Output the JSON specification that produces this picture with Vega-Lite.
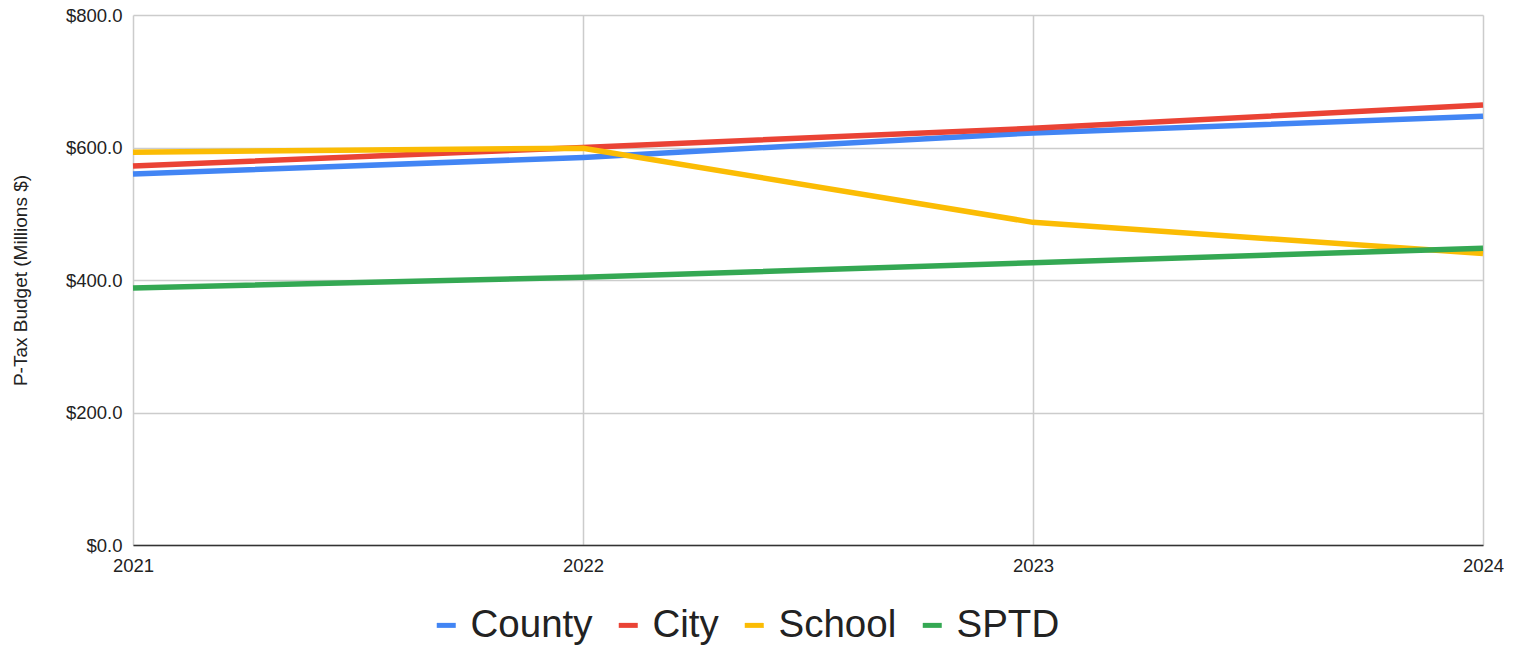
{
  "$schema": "https://vega.github.io/schema/vega-lite/v6.json",
  "width": 1350,
  "height": 530,
  "autosize": {"type": "none"},
  "padding": {"left": 133, "top": 15, "right": 34, "bottom": 102},
  "background": "white",
  "config": {
    "font": "Liberation Sans",
    "view": {"stroke": null},
    "axis": {"labelFont": "Liberation Sans", "titleFont": "Liberation Sans"}
  },
  "data": {
    "values": [
      {"year": 2021, "series": "County", "value": 560},
      {"year": 2022, "series": "County", "value": 585},
      {"year": 2023, "series": "County", "value": 622},
      {"year": 2024, "series": "County", "value": 647},
      {"year": 2021, "series": "City", "value": 572},
      {"year": 2022, "series": "City", "value": 600},
      {"year": 2023, "series": "City", "value": 629},
      {"year": 2024, "series": "City", "value": 664},
      {"year": 2021, "series": "School", "value": 593},
      {"year": 2022, "series": "School", "value": 599},
      {"year": 2023, "series": "School", "value": 487},
      {"year": 2024, "series": "School", "value": 440},
      {"year": 2021, "series": "SPTD", "value": 388},
      {"year": 2022, "series": "SPTD", "value": 404},
      {"year": 2023, "series": "SPTD", "value": 426},
      {"year": 2024, "series": "SPTD", "value": 448}
    ]
  },
  "mark": {"type": "line", "strokeWidth": 5.5, "interpolate": "linear", "strokeCap": "butt", "strokeJoin": "round"},
  "encoding": {
    "x": {
      "field": "year",
      "type": "quantitative",
      "scale": {"domain": [2021, 2024], "nice": false, "zero": false},
      "axis": {
        "title": null,
        "values": [2021, 2022, 2023, 2024],
        "format": "d",
        "grid": true,
        "gridColor": "#cccccc",
        "gridWidth": 1.5,
        "domainColor": "#333333",
        "domainWidth": 1.5,
        "ticks": false,
        "labelPadding": 11,
        "labelFontSize": 18.5,
        "labelColor": "#222222",
        "labelFlush": false
      }
    },
    "y": {
      "field": "value",
      "type": "quantitative",
      "scale": {"domain": [0, 800], "nice": false},
      "axis": {
        "title": "P-Tax Budget (Millions $)",
        "titleFontSize": 19,
        "titleFontWeight": "normal",
        "titleColor": "#222222",
        "titlePadding": 35,
        "values": [0, 200, 400, 600, 800],
        "format": "$.1f",
        "grid": true,
        "gridColor": "#cccccc",
        "gridWidth": 1.5,
        "domain": false,
        "ticks": false,
        "labelPadding": 11,
        "labelFontSize": 18.5,
        "labelColor": "#222222"
      }
    },
    "color": {
      "field": "series",
      "type": "nominal",
      "scale": {
        "domain": ["County", "City", "School", "SPTD"],
        "range": ["#4285F4", "#EA4335", "#FBBC04", "#34A853"]
      },
      "legend": {
        "title": null,
        "orient": "none",
        "direction": "horizontal",
        "legendX": 294,
        "legendY": 591,
        "labelFontSize": 38.5,
        "labelColor": "#222222",
        "symbolType": "stroke",
        "symbolStrokeWidth": 5,
        "symbolSize": 361,
        "labelOffset": 5,
        "columnPadding": 15
      }
    }
  }
}
